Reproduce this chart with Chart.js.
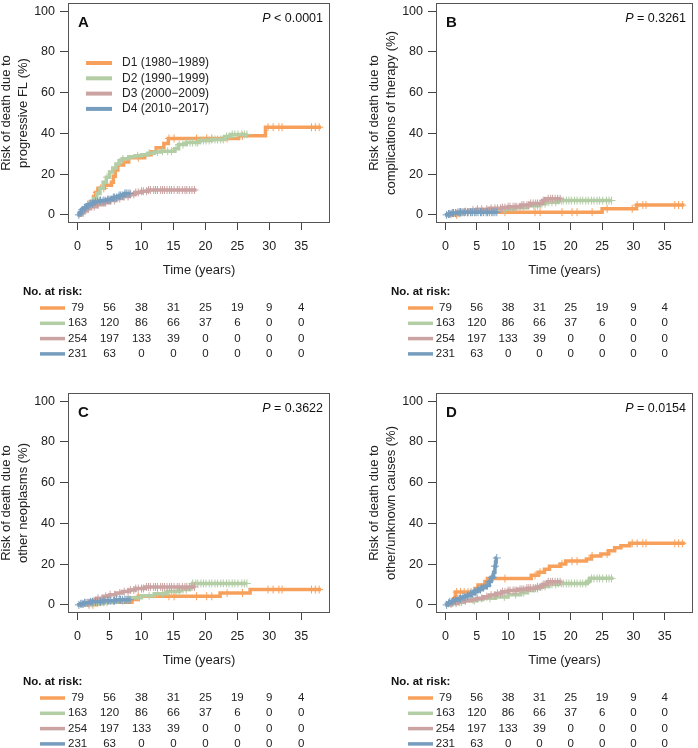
<!DOCTYPE html>
<html>
<head>
<meta charset="utf-8">
<title>Cumulative incidence by decade</title>
<script src="https://cdn.jsdelivr.net/npm/chart.js@4.4.1/dist/chart.umd.min.js"></script>
<style>
  html, body { margin: 0; padding: 0; background: #fff; }
  #wrap { position: relative; width: 698px; height: 748px; overflow: hidden; }
  #wrap canvas { position: absolute; }
</style>
</head>
<body>
<div id="wrap">
  <canvas id="panelA" width="349" height="362" style="left:0px;top:-2px"></canvas>
  <canvas id="panelB" width="330" height="362" style="left:368px;top:-2px"></canvas>
  <canvas id="panelC" width="349" height="362" style="left:0px;top:388px"></canvas>
  <canvas id="panelD" width="330" height="362" style="left:368px;top:388px"></canvas>
</div>
<script>
// groups
const groupLabels = ['D1 (1980\u22121989)', 'D2 (1990\u22121999)', 'D3 (2000\u22122009)', 'D4 (2010\u22122017)'];
const groupColors = ['#F7A05B', '#B3CDA5', '#CBA3A2', '#779DBE'];

// axes
const xTicks = [0, 5, 10, 15, 20, 25, 30, 35];
const yTicks = [0, 20, 40, 60, 80, 100];

// number at risk (same for every panel)
const riskD1 = [79, 56, 38, 31, 25, 19, 9, 4];
const riskD2 = [163, 120, 86, 66, 37, 6, 0, 0];
const riskD3 = [254, 197, 133, 39, 0, 0, 0, 0];
const riskD4 = [231, 63, 0, 0, 0, 0, 0, 0];

// censoring times (years), shared by all panels
const censorD1 = [1.8, 2.4, 3.0, 3.6, 4.1, 9.5, 14.3, 15.1, 18.6, 20.2, 21.0, 23.4, 25.8, 29.8, 30.6, 31.5, 32.0, 36.6, 37.2, 37.8];
const censorD2 = [2.3, 4.6, 7.1, 9.4, 11.2, 12.5, 13.3, 14.1, 14.7, 15.4, 15.9, 16.5, 17.0, 17.6, 18.0, 18.5, 18.8, 19.3, 19.7, 20.1, 20.6, 21.0, 21.5, 21.9, 22.4, 22.8, 23.3, 23.7, 24.2, 24.6, 25.1, 25.7, 26.1, 26.5];
const censorD3 = [0.9, 1.7, 2.6, 3.2, 4.4, 5.1, 5.8, 6.6, 7.3, 7.9, 8.3, 8.8, 9.1, 9.5, 10.0, 10.3, 10.8, 11.1, 11.4, 11.9, 12.2, 12.5, 13.0, 13.3, 13.6, 14.0, 14.4, 14.7, 15.1, 15.6, 15.9, 16.4, 16.8, 17.1, 17.5, 17.9, 18.3];
const censorD4 = [0.2, 0.5, 0.7, 1.1, 1.3, 1.6, 2.0, 2.3, 2.4, 2.8, 3.1, 3.5, 3.6, 4.0, 4.3, 4.7, 4.9, 5.2, 5.6, 5.8, 6.1, 6.5, 6.7, 7.0, 7.4, 7.6, 7.9, 8.2];

// cumulative incidence steps [time, %]
// A: progressive FL
const stepsA1 = [[0,0],[0.5,1.3],[1,2.6],[1.5,4],[2,6.5],[2.5,9],[2.8,11],[3.2,13],[4.2,14.5],[5.3,16],[5.6,19],[5.9,22],[6.3,24.5],[7.2,26],[8,28],[10.5,29.5],[11.5,31],[12.3,33],[13.5,35],[14.2,37.5],[25.2,38.8],[29.4,43],[38.1,43]];
const stepsA2 = [[0,0],[0.5,1],[1,2.5],[1.5,4],[2,6],[2.5,8],[3,10.5],[3.5,13],[4,16],[4.5,18.5],[5,21],[5.5,23],[6,25],[6.5,26.5],[7,27.5],[8,28.5],[9,29],[10,29.5],[11,30.3],[12,30.8],[13,31.2],[15.2,32.5],[15.8,34.5],[17,35.5],[19,36.5],[21,37],[23,38.5],[24,39.5],[26.6,39.5]];
const stepsA3 = [[0,0],[0.5,1],[1,2],[1.5,3],[2,4],[3,5],[4,6],[5,7],[6,8],[7,9],[8,10],[9,11],[10,11.6],[11,12.2],[18.6,12.2]];
const stepsA4 = [[0,0],[0.3,1],[0.6,2.5],[1,3.5],[1.5,5],[2,5.5],[2.5,6.5],[3.5,7],[4.5,7.5],[5.5,8.5],[6.5,9.5],[7.3,10.5],[8.2,10.5]];
// B: complications of therapy
const stepsB1 = [[0,0],[2,1.3],[25,3],[30.5,4.8],[38.1,4.8]];
const stepsB2 = [[0,0],[1,0.6],[3,1.3],[5,2],[8,2.6],[11,3.5],[13,4.5],[15,5.5],[16,6.2],[18,7],[26.6,7]];
const stepsB3 = [[0,0],[0.5,0.4],[1,0.8],[2,1.2],[3,1.6],[4,2.4],[5,2.8],[7,3.2],[9,3.6],[10,4],[12,4.8],[13.5,5.6],[15.5,7],[16,7.9],[18.4,7.9]];
const stepsB4 = [[0,0],[0.5,0.4],[1,0.9],[2,1.3],[8.3,1.3]];
// C: other neoplasms
const stepsC1 = [[0,0],[3,1.3],[8.5,2.6],[9.5,4.2],[22.3,5.8],[27,7.5],[38.1,7.5]];
const stepsC2 = [[0,0],[1.5,0.6],[4,1.3],[6,2],[8,3.5],[10,4.5],[12,5.5],[14,6.5],[16,7.5],[17.5,8.5],[18,10.5],[26.5,10.5]];
const stepsC3 = [[0,0],[0.5,0.4],[1,0.8],[2,2],[3,3.2],[4,4.2],[5,5],[6,5.8],[7,6.5],[8,7.3],[9,8],[10.5,8.8],[18.4,8.8]];
const stepsC4 = [[0,0],[0.5,0.5],[1,1],[2,1.5],[4,2],[6,2.5],[8.3,2.5]];
// D: other/unknown causes
const stepsD1 = [[0,0],[1,1.3],[1.3,3],[1.6,6.3],[4.7,8],[5.2,9.8],[6.3,11.5],[6.7,12.9],[13.7,14.5],[14.8,16],[15.8,17.5],[16.6,19],[18.3,20],[19.2,21.5],[22.5,22.5],[23.3,24],[24.8,25],[26,26.5],[27,28],[28,29],[29.4,30.2],[38.2,30.2]];
const stepsD2 = [[0,0],[1,0.6],[2,1.3],[3,2],[5,2.6],[6,3.2],[8,3.8],[10,5],[12,6],[13,7],[14,8],[15,9],[16.5,10],[18,10.5],[22.6,11.5],[23,13],[26.8,13]];
const stepsD3 = [[0,0],[0.5,0.4],[1,0.8],[2,1.5],[3,2],[4,2.6],[5,3.2],[6,4],[7,4.8],[8,5.6],[9,6.4],[10,7],[11.5,7.6],[13,8.2],[14.5,8.8],[15.5,10],[16.3,11.3],[18.4,11.3]];
const stepsD4 = [[0,0],[0.3,0.8],[0.7,1.5],[1.2,2.2],[1.8,3],[2.5,3.8],[3.3,4.5],[4,5.5],[4.6,6.5],[5.2,7.5],[5.8,8.5],[6.5,9.5],[7,11.5],[7.3,13.5],[7.7,16],[7.9,19],[8.0,21],[8.1,23],[8.2,23]];

const panelLetters = ['A', 'B', 'C', 'D'];
const pValues = ['< 0.0001', '= 0.3261', '= 0.3622', '= 0.0154'];
const yTitles = [
  ['Risk of death due to', 'progressive FL (%)'],
  ['Risk of death due to', 'complications of therapy (%)'],
  ['Risk of death due to', 'other neoplasms (%)'],
  ['Risk of death due to', 'other/unknown causes (%)']
];

const allSteps = [
  [stepsA1, stepsA2, stepsA3, stepsA4],
  [stepsB1, stepsB2, stepsB3, stepsB4],
  [stepsC1, stepsC2, stepsC3, stepsC4],
  [stepsD1, stepsD2, stepsD3, stepsD4]
];
const allCensor = [censorD1, censorD2, censorD3, censorD4];
const allRisk = [riskD1, riskD2, riskD3, riskD4];

const FONT = "'Liberation Sans', Arial, Helvetica, sans-serif";
Chart.defaults.font.family = FONT;
Chart.defaults.color = '#222';

function valueAt(steps, t) {
  let v = 0;
  for (const [x, y] of steps) {
    if (x <= t) v = y; else break;
  }
  return v;
}

// no extra room for edge tick labels, the box is placed by hand
function noEdgePadding(s) {
  s.paddingTop = 0;
  s.paddingBottom = 0;
  s.paddingLeft = 0;
  s.paddingRight = 0;
}

const decorPlugin = {
  id: 'decor',
  beforeDatasetsDraw(chart) {
    const {ctx, chartArea: a} = chart;
    ctx.save();
    ctx.strokeStyle = '#555';
    ctx.lineWidth = 1;
    ctx.strokeRect(a.left + 0.5, a.top + 0.5, a.right - a.left - 1, a.bottom - a.top - 1);
    ctx.restore();
  },
  afterDraw(chart, args, opts) {
    const {ctx, chartArea: a} = chart;
    const p = opts.index;
    ctx.save();
    // panel letter
    ctx.fillStyle = '#111';
    ctx.textBaseline = 'middle';
    ctx.textAlign = 'left';
    ctx.font = 'bold 15px ' + FONT;
    ctx.fillText(panelLetters[p], a.left + 10, a.top + 20);

    // P value, right aligned
    ctx.font = '12.5px ' + FONT;
    const rest = ' ' + pValues[p];
    const restW = ctx.measureText(rest).width;
    ctx.fillText(rest, a.right - 7 - restW, a.top + 16);
    ctx.font = 'italic 12.5px ' + FONT;
    const pW = ctx.measureText('P').width;
    ctx.fillText('P', a.right - 7 - restW - pW, a.top + 16);

    // legend (panel A only)
    if (p === 0) {
      ctx.font = '12px ' + FONT;
      groupLabels.forEach((lab, g) => {
        const y = a.top + 60 + g * 15.3;
        ctx.strokeStyle = groupColors[g];
        ctx.lineWidth = 4;
        ctx.beginPath();
        ctx.moveTo(a.left + 18, y);
        ctx.lineTo(a.left + 44, y);
        ctx.stroke();
        ctx.fillStyle = '#222';
        ctx.fillText(lab, a.left + 54, y);
      });
    }

    // number at risk table
    const xs = chart.scales.x;
    ctx.fillStyle = '#111';
    ctx.font = 'bold 11.5px ' + FONT;
    ctx.textAlign = 'left';
    ctx.fillText('No. at risk:', a.left - 45, a.bottom + 69);
    ctx.font = '11.5px ' + FONT;
    ctx.textAlign = 'center';
    allRisk.forEach((row, g) => {
      const y = a.bottom + 85 + g * 15.3;
      ctx.strokeStyle = groupColors[g];
      ctx.lineWidth = 3.5;
      ctx.beginPath();
      ctx.moveTo(a.left - 28, y);
      ctx.lineTo(a.left - 3, y);
      ctx.stroke();
      ctx.fillStyle = '#222';
      row.forEach((n, i) => {
        ctx.fillText(String(n), xs.getPixelForValue(xTicks[i]), y);
      });
    });
    ctx.restore();
  }
};

function makePanel(canvasId, p, rightPad) {
  const datasets = [];
  allSteps[p].forEach((steps, g) => {
    const lastT = steps[steps.length - 1][0];
    datasets.push({
      data: steps.map(([x, y]) => ({x, y})),
      stepped: 'before',
      borderColor: groupColors[g],
      borderWidth: 3.5,
      pointRadius: 0,
      fill: false,
      order: 7 - g * 2
    });
    datasets.push({
      data: allCensor[g].filter(t => t <= lastT).map(t => ({x: t, y: valueAt(steps, t)})),
      showLine: false,
      pointStyle: 'cross',
      pointRadius: 4,
      borderColor: groupColors[g],
      borderWidth: 1,
      order: 6 - g * 2
    });
  });

  return new Chart(document.getElementById(canvasId), {
    type: 'line',
    data: {datasets},
    plugins: [decorPlugin],
    options: {
      responsive: false,
      animation: false,
      devicePixelRatio: 1,
      layout: {padding: {top: 2, right: rightPad, bottom: 82, left: 0}},
      plugins: {
        legend: {display: false},
        tooltip: {enabled: false},
        decor: {index: p}
      },
      scales: {
        x: {
          type: 'linear',
          min: -1.5,
          max: 39.5,
          afterBuildTicks: s => { s.ticks = xTicks.map(v => ({value: v})); },
          afterFit: s => { s.height = 55; noEdgePadding(s); },
          grid: {drawOnChartArea: false, drawTicks: true, tickLength: 7, color: '#444'},
          border: {display: false},
          ticks: {padding: 9, color: '#222', font: {size: 12.5}, maxRotation: 0, autoSkip: false},
          title: {display: true, text: 'Time (years)', color: '#222', font: {size: 13}, padding: {top: 0, bottom: 0}}
        },
        y: {
          type: 'linear',
          min: -4,
          max: 104,
          afterBuildTicks: s => { s.ticks = yTicks.map(v => ({value: v})); },
          afterFit: s => { s.width = 68; noEdgePadding(s); },
          grid: {drawOnChartArea: false, drawTicks: true, tickLength: 8, color: '#444'},
          border: {display: false},
          ticks: {padding: 5, color: '#222', font: {size: 12.5}},
          title: {display: true, text: yTitles[p], color: '#222', font: {size: 13, lineHeight: 1.38}, padding: {top: -3, bottom: 0}}
        }
      }
    }
  });
}

makePanel('panelA', 0, 19);
makePanel('panelB', 1, 1);
makePanel('panelC', 2, 19);
makePanel('panelD', 3, 1);
</script>
</body>
</html>
